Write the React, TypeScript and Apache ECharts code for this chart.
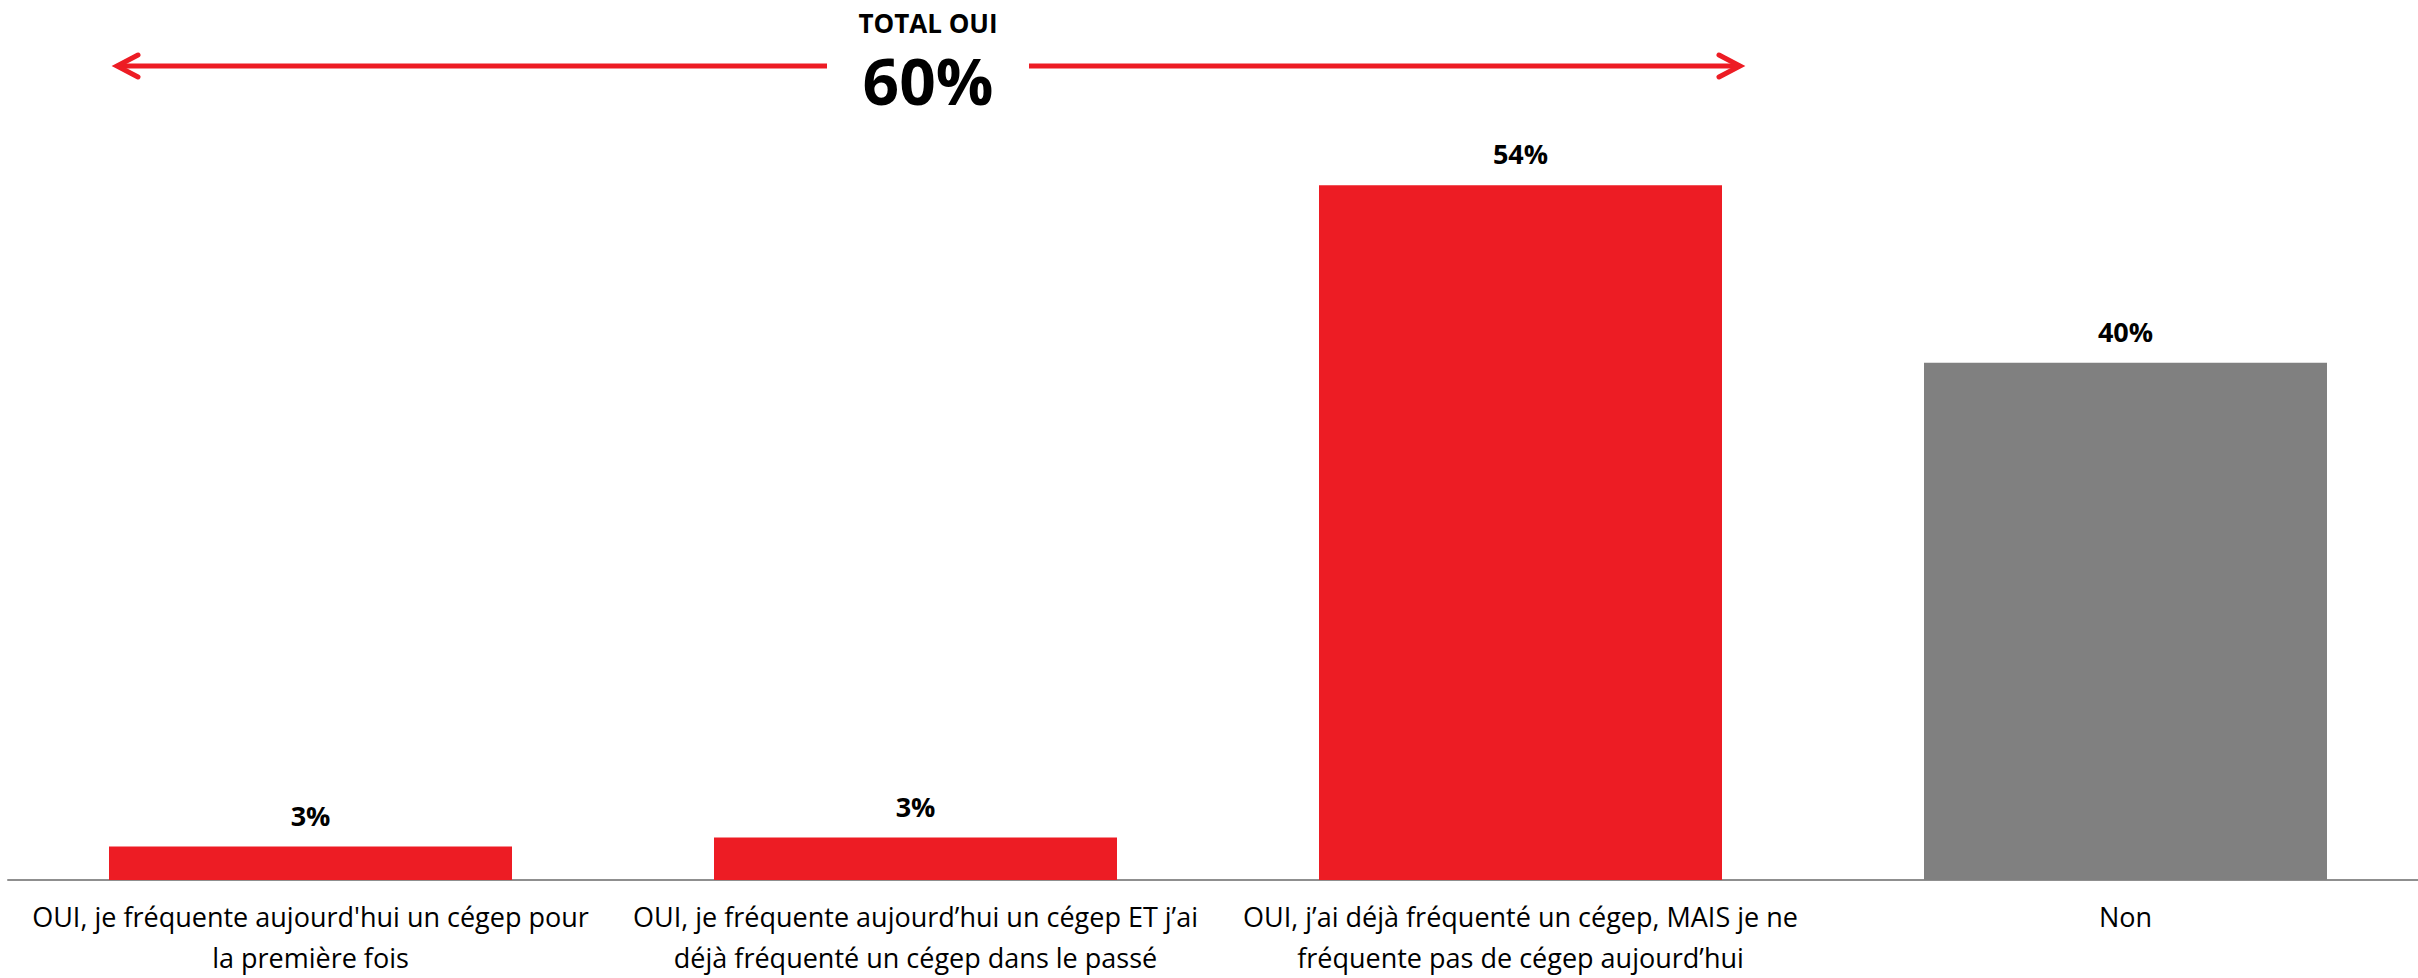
import React, { useEffect, useRef } from "react";
import * as echarts from "echarts";

const categories: string[] = [
  "OUI, je fréquente aujourd'hui un cégep pour\nla première fois",
  "OUI, je fréquente aujourd’hui un cégep ET j’ai\ndéjà fréquenté un cégep dans le passé",
  "OUI, j’ai déjà fréquenté un cégep, MAIS je ne\nfréquente pas de cégep aujourd’hui",
  "Non",
];
const values: number[] = [2.6, 3.3, 54.0, 40.2];
const barColors: string[] = ["#ED1C24", "#ED1C24", "#ED1C24", "#808080"];
const totalTitle = "TOTAL OUI";
const totalValue = "60%";

const RED = "#ED1C24";
const FONT = "'Open Sans', 'Liberation Sans', sans-serif";

export default function App() {
  const ref = useRef<HTMLDivElement>(null);
  useEffect(() => {
    if (!ref.current) return;
    const chart = echarts.init(ref.current, null, { renderer: "svg" });
    chart.setOption({
      animation: false,
      backgroundColor: "#ffffff",
      grid: { left: 8, width: 2420, top: 108, bottom: 98, containLabel: false, outerBoundsMode: "none" },
      xAxis: {
        type: "category",
        data: categories,
        axisLine: { show: true, lineStyle: { color: "#8f8f8f", width: 2 } },
        axisTick: { show: false },
        axisLabel: {
          interval: 0,
          margin: 16,
          color: "#000000",
          fontFamily: FONT,
          fontSize: 27,
          lineHeight: 41,
        },
      },
      yAxis: {
        type: "value",
        min: 0,
        max: 60,
        show: false,
        splitLine: { show: false },
      },
      series: [
        {
          type: "bar",
          barWidth: 403,
          data: values.map((v, i) => ({ value: v, itemStyle: { color: barColors[i] } })),
          label: {
            show: true,
            position: "top",
            distance: 18,
            formatter: (p: any) => Math.round(p.value) + "%",
            color: "#000000",
            fontFamily: FONT,
            fontWeight: "bold",
            fontSize: 27,
          },
        },
      ],
      graphic: [
        {
          type: "text",
          x: 928,
          y: 23,
          style: {
            text: totalTitle,
            fill: "#000000",
            fontFamily: FONT,
            fontWeight: "bold",
            fontSize: 26,
            lineHeight: 26,
            align: "center",
            verticalAlign: "middle",
          },
        },
        {
          type: "text",
          x: 928,
          y: 80,
          style: {
            text: totalValue,
            fill: "#000000",
            fontFamily: FONT,
            fontWeight: "bold",
            fontSize: 64,
            lineHeight: 56,
            align: "center",
            verticalAlign: "middle",
          },
        },
        {
          type: "line",
          shape: { x1: 118, y1: 66, x2: 827, y2: 66 },
          style: { stroke: RED, lineWidth: 5 },
        },
        {
          type: "line",
          shape: { x1: 1029, y1: 66, x2: 1739, y2: 66 },
          style: { stroke: RED, lineWidth: 5 },
        },
        {
          type: "polyline",
          shape: { points: [[138, 55], [117, 66], [138, 77]] },
          style: { stroke: RED, lineWidth: 5, fill: "none", lineCap: "round", lineJoin: "miter" },
        },
        {
          type: "polyline",
          shape: { points: [[1719, 55], [1740, 66], [1719, 77]] },
          style: { stroke: RED, lineWidth: 5, fill: "none", lineCap: "round", lineJoin: "miter" },
        },
      ],
    });
    return () => chart.dispose();
  }, []);
  return (
    <div
      ref={ref}
      style={{ position: "fixed", left: 0, top: 0, width: 2418, height: 978 }}
    />
  );
}
